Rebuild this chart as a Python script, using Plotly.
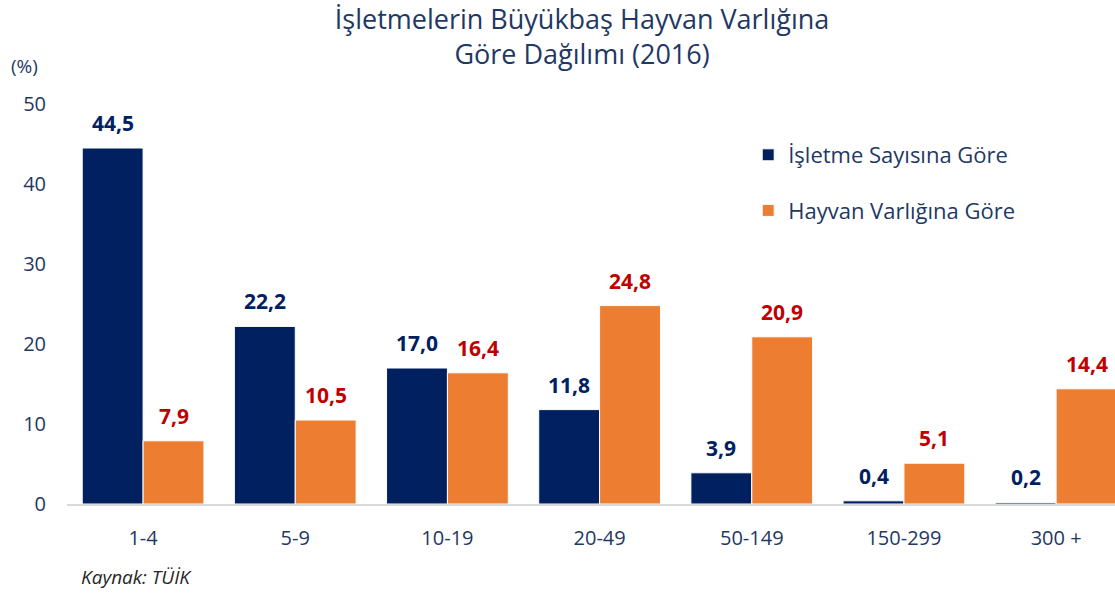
import plotly.graph_objects as go

categories = ["1-4", "5-9", "10-19", "20-49", "50-149", "150-299", "300 +"]
isletme = [44.5, 22.2, 17.0, 11.8, 3.9, 0.4, 0.2]
hayvan = [7.9, 10.5, 16.4, 24.8, 20.9, 5.1, 14.4]
series_names = ["İşletme Sayısına Göre", "Hayvan Varlığına Göre"]
y_ticks = [0, 10, 20, 30, 40, 50]

NAVY = "#002060"
ORANGE = "#ED7D31"
RED = "#C00000"
AXIS_TXT = "#1F3864"
FONT = "Open Sans"

W, H = 1115, 593
ML, MR, MT, MB = 67, 0, 104, 89
X_RANGE = [-0.5, 6.387]
BARGAP = 0.2

def fmt(v):
    return f"{v:.1f}".replace(".", ",")

fig = go.Figure()
fig.add_trace(go.Bar(
    x=categories, y=isletme, name=series_names[0], legendgroup="a",
    marker=dict(color=NAVY, line=dict(color="white", width=1)),
))
fig.add_trace(go.Bar(
    x=categories, y=hayvan, name=series_names[1], legendgroup="b",
    marker=dict(color=ORANGE, line=dict(color="white", width=1)),
))

# value labels placed above each bar, offset to its group slot
px_per_cat = (W - ML - MR) / (X_RANGE[1] - X_RANGE[0])
slot = px_per_cat * (1 - BARGAP) / 4
annos = []
for vals, col, sgn in ((isletme, NAVY, -1), (hayvan, RED, 1)):
    for c, v in zip(categories, vals):
        annos.append(dict(
            x=c, y=v, xref="x", yref="y", text=f"<b>{fmt(v)}</b>",
            showarrow=False, xanchor="center", yanchor="bottom",
            xshift=sgn * slot, yshift=9,
            font=dict(family=FONT, size=21, color=col),
        ))

annos += [
    dict(text="(%)", xref="paper", yref="paper", x=-0.0554, y=1.095,
         xanchor="left", yanchor="middle", showarrow=False,
         font=dict(family=FONT, size=19, color=AXIS_TXT)),
    dict(text="<i>Kaynak: TÜİK</i>", xref="paper", yref="paper", x=0.0115, y=-0.1825,
         xanchor="left", yanchor="middle", showarrow=False,
         font=dict(family=FONT, size=19, color="#262626")),
]

fig.update_layout(
    width=W, height=H,
    paper_bgcolor="white", plot_bgcolor="white",
    margin=dict(l=ML, r=MR, t=MT, b=MB),
    barmode="group", bargap=BARGAP, bargroupgap=0.0,
    font=dict(family=FONT, color=AXIS_TXT),
    title=dict(
        text="İşletmelerin Büyükbaş Hayvan Varlığına<br>Göre Dağılımı (2016)",
        x=0.522, xanchor="center", y=1 - 28.5 / H, yanchor="middle",
        font=dict(family=FONT, size=27, color=AXIS_TXT),
    ),
    showlegend=True,
    legend=dict(
        x=0.65, y=0.925, xanchor="left", yanchor="top",
        font=dict(family=FONT, size=22, color=AXIS_TXT),
        tracegroupgap=24, itemwidth=30,
        bgcolor="rgba(0,0,0,0)",
    ),
    xaxis=dict(
        range=X_RANGE, showline=True, linecolor="#D9D9D9", linewidth=2,
        ticks="", tickfont=dict(family=FONT, size=20, color=AXIS_TXT),
        ticklabelstandoff=15,
    ),
    yaxis=dict(
        range=[0, 50], tickvals=y_ticks, showgrid=False, zeroline=False,
        showline=False, ticks="", tickfont=dict(family=FONT, size=20, color=AXIS_TXT),
        ticklabelstandoff=20,
    ),
    annotations=annos,
)

fig.write_html("out.html", config={"displayModeBar": False},
               post_script="document.body.style.margin='0px';")
